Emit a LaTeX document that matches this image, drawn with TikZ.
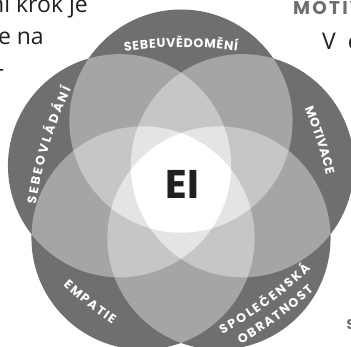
\documentclass[tikz,border=0pt]{standalone}
\usepackage{fontspec}
\setmainfont{Open Sans}
\newfontfamily\labelfont{Poppins}
\newfontfamily\headfont{Poppins}[LetterSpace=12]
\usetikzlibrary{calc,decorations.text}

\definecolor{ring}{HTML}{6E6F71}
\definecolor{lapA}{HTML}{A4A5A7}
\definecolor{lapB}{HTML}{C5C6C8}
\definecolor{lapC}{HTML}{E4E4E5}
\definecolor{ink}{HTML}{231F20}
\newcommand\petalr{111.6pt}

\tikzset{
  outlabel/.style={decorate, decoration={text along path, text align={fit to path}, text color=white,
     text={|\labelfont\bfseries\fontsize{12.5}{14}\selectfont|#1}}},
  bodytext/.style={font=\fontsize{23}{30}\selectfont, text=ink, inner sep=0},
  headtext/.style={font=\headfont\bfseries\fontsize{#1}{#1}\selectfont, text=ring, inner sep=0},
}

\begin{document}
\begin{tikzpicture}[x=1pt,y=1pt]
\useasboundingbox (0,0) rectangle (351,347);
\clip (0,0) rectangle (351,347);
\coordinate (O) at (181,161.3);
\foreach \a [count=\i] in {90,162,234,306,18}
  \coordinate (c\i) at ($(O)+(\a:64.6)$);

% one circle
\foreach \i in {1,...,5}
  \fill[ring] (c\i) circle[radius=\petalr];
% two circles
\foreach \i/\j in {1/2,1/3,1/4,1/5,2/3,2/4,2/5,3/4,3/5,4/5}{
  \begin{scope}
    \clip (c\i) circle[radius=\petalr];
    \fill[lapA] (c\j) circle[radius=\petalr];
  \end{scope}
}
% three circles
\foreach \i/\j/\k in {1/2/3,1/2/4,1/2/5,1/3/4,1/3/5,1/4/5,2/3/4,2/3/5,2/4/5,3/4/5}{
  \begin{scope}
    \clip (c\i) circle[radius=\petalr];
    \clip (c\j) circle[radius=\petalr];
    \fill[lapB] (c\k) circle[radius=\petalr];
  \end{scope}
}
% four circles
\foreach \i/\j/\k/\l in {2/3/4/5,1/3/4/5,1/2/4/5,1/2/3/5,1/2/3/4}{
  \begin{scope}
    \clip (c\i) circle[radius=\petalr];
    \clip (c\j) circle[radius=\petalr];
    \clip (c\k) circle[radius=\petalr];
    \fill[lapC] (c\l) circle[radius=\petalr];
  \end{scope}
}
% all five
\begin{scope}
  \clip (c1) circle[radius=\petalr];
  \clip (c2) circle[radius=\petalr];
  \clip (c3) circle[radius=\petalr];
  \clip (c4) circle[radius=\petalr];
  \fill[white] (c5) circle[radius=\petalr];
\end{scope}

\node[font=\labelfont\bfseries\fontsize{40}{40}\selectfont, text=ink] (ei) at (182.5,163) {EI};

% labels round the ring (arcs of radius 400, spread to the arc)
\path[outlabel=SEBEUVĚDOMĚNÍ] ($(O)+(90:138.5)+(270:400)+(98.1:400)$) arc[start angle=98.1, end angle=81.9, radius=400pt];
\path[outlabel=SEBEOVLÁDÁNÍ] ($(O)+(163:137.8)+(343:400)+(171.7:400)$) arc[start angle=171.7, end angle=154.3, radius=400pt];
\path[outlabel=MOTIVACE] ($(O)+(18:142.8)+(198:400)+(23:400)$) arc[start angle=23, end angle=13, radius=400pt];
\path[outlabel=EMPATIE] ($(O)+(232:152.6)+(52:400)+(227.5:400)$) arc[start angle=227.5, end angle=236.5, radius=400pt];
\path[outlabel=SPOLEČENSKÁ] ($(O)+(306.5:147.7)+(126.5:400)+(298.6:400)$) arc[start angle=298.6, end angle=314.4, radius=400pt];
\path[outlabel=OBRATNOST] ($(O)+(306.2:165.7)+(126.2:400)+(299.7:400)$) arc[start angle=299.7, end angle=312.7, radius=400pt];

% page text round the picture
\node[bodytext, anchor=base east] (line1) at (88,334) {ní krok je};
\node[bodytext, anchor=base east] (line2) at (44,302) {je na};
\node[bodytext, anchor=east] (line3) at (4.5,274) {-};
\node[headtext=18.5, anchor=base west] (headM) at (293,332) {MOTIV};
\node[bodytext, anchor=base west] (textV) at (322,297) {V\hspace{6pt} c};
\node[headtext=14, anchor=base west] (headS) at (346.5,17) {S};
\end{tikzpicture}
\end{document}
